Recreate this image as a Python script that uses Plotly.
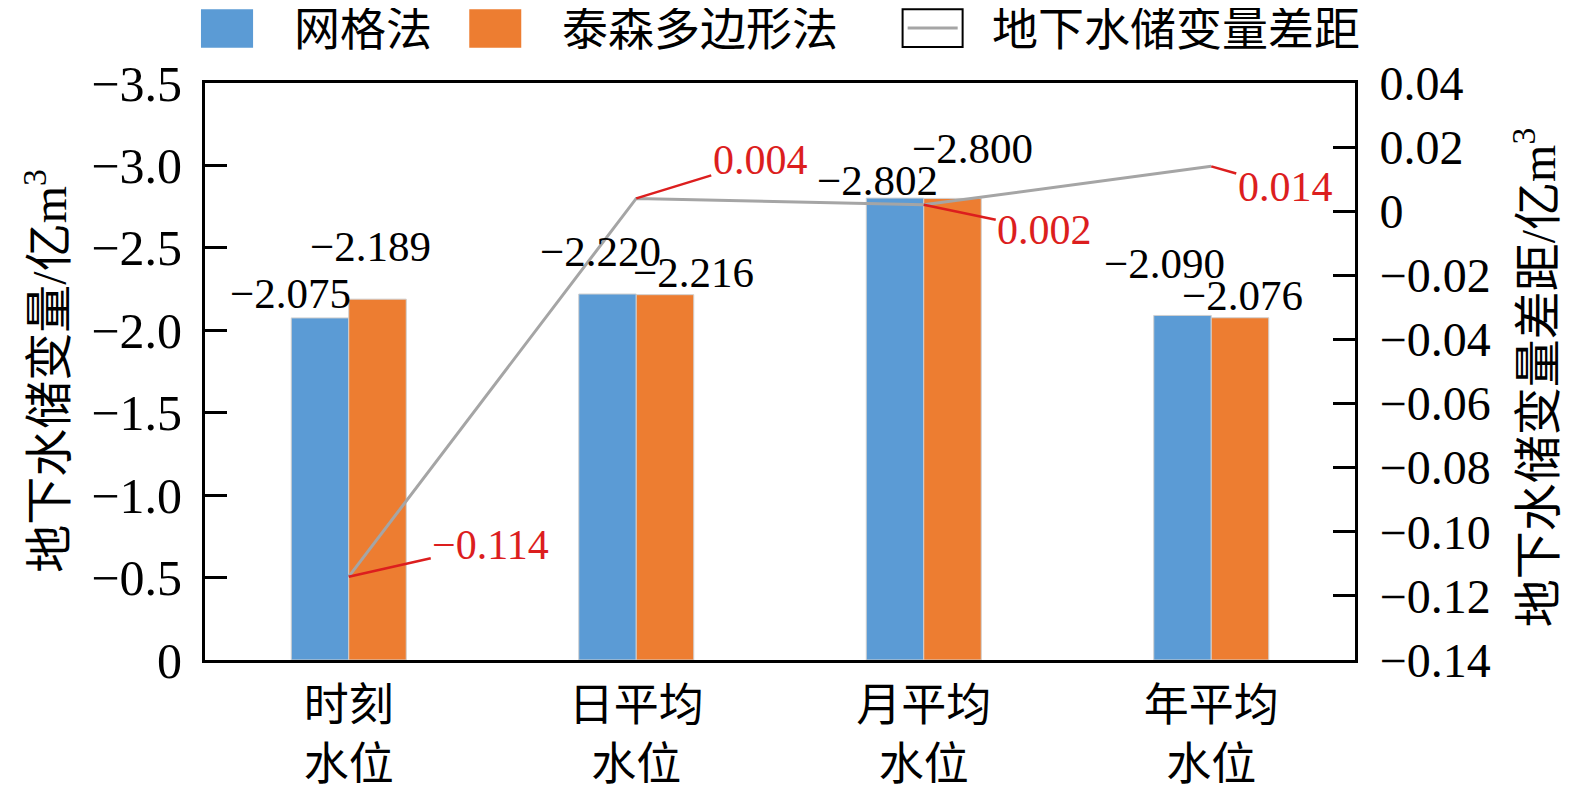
import plotly.graph_objects as go

categories = ["时刻<br>水位", "日平均<br>水位", "月平均<br>水位", "年平均<br>水位"]
grid_vals = [-2.075, -2.220, -2.802, -2.090]
thiessen_vals = [-2.189, -2.216, -2.800, -2.076]
diff_vals = [-0.114, 0.004, 0.002, 0.014]

left_tickvals = [0, -0.5, -1.0, -1.5, -2.0, -2.5, -3.0, -3.5]
left_ticktext = ["0", "−0.5", "−1.0", "−1.5", "−2.0", "−2.5", "−3.0", "−3.5"]
right_tickvals = [0.04, 0.02, 0, -0.02, -0.04, -0.06, -0.08, -0.10, -0.12, -0.14]
right_ticktext = ["0.04", "0.02", "0", "−0.02", "−0.04", "−0.06", "−0.08", "−0.10", "−0.12", "−0.14"]

BLUE = "#5B9BD5"
ORANGE = "#ED7D31"
GRAY = "#A5A5A5"
RED = "#DC1E1E"
FONT = "Liberation Serif, Noto Sans CJK SC"

# label offsets (pixels) for bar value labels
grid_shift = [(-58, 24), (-36, 43), (-46, 18), (-47, 52)]
thiessen_shift = [(22, 53), (57, 22), (49, 50), (31, 22)]
diff_offset = [(142, -32), (124, -38), (121, 25), (74, 21)]

fig = go.Figure()
fig.add_trace(go.Bar(x=categories, y=grid_vals, name="网格法", marker_color=BLUE,
                     marker_line=dict(width=1, color="#D0D0D0"), showlegend=False))
fig.add_trace(go.Bar(x=categories, y=thiessen_vals, name="泰森多边形法", marker_color=ORANGE,
                     marker_line=dict(width=1, color="#D0D0D0"), showlegend=False))
fig.add_trace(go.Scatter(x=categories, y=diff_vals, name="地下水储变量差距", mode="lines",
                         line=dict(color=GRAY, width=3), yaxis="y2", showlegend=False))

def fmt(v):
    return ("−" if v < 0 else "") + f"{abs(v):.3f}"

ann = []
for c, v, (dx, dy) in zip(categories, grid_vals, grid_shift):
    ann.append(dict(x=c, y=v, xref="x", yref="y", text=fmt(v), showarrow=False,
                    xshift=dx, yshift=dy, font=dict(size=43, color="black", family=FONT)))
for c, v, (dx, dy) in zip(categories, thiessen_vals, thiessen_shift):
    ann.append(dict(x=c, y=v, xref="x", yref="y", text=fmt(v), showarrow=False,
                    xshift=dx, yshift=dy, font=dict(size=43, color="black", family=FONT)))
for c, v, (ax, ay) in zip(categories, diff_vals, diff_offset):
    ann.append(dict(x=c, y=v, xref="x", yref="y2", text=fmt(v), showarrow=True,
                    arrowhead=0, arrowwidth=2.5, arrowcolor=RED, ax=ax, ay=ay,
                    font=dict(size=42, color=RED, family=FONT)))

# axis titles
ann.append(dict(x=-0.139, y=0.5, xref="paper", yref="paper", text="地下水储变量/亿m<sup>3</sup>",
                textangle=-90, showarrow=False, xanchor="center", yanchor="middle",
                font=dict(size=48, color="black", family=FONT)))
ann.append(dict(x=1.1565, y=0.49, xref="paper", yref="paper", text="地下水储变量差距/亿m<sup>3</sup>",
                textangle=-90, showarrow=False, xanchor="center", yanchor="middle",
                font=dict(size=48, color="black", family=FONT)))

# custom legend
leg_font = dict(size=46, color="black", family=FONT)
for xpos, txt in [(0.0757, "网格法"), (0.309, "泰森多边形法"), (0.683, "地下水储变量差距")]:
    ann.append(dict(x=xpos, y=1.092, xref="paper", yref="paper", text=txt, xanchor="left",
                    yanchor="middle", showarrow=False, font=leg_font))
shapes = [
    dict(type="rect", xref="paper", yref="paper", x0=-0.0035, x1=0.0418, y0=1.061, y1=1.128,
         fillcolor=BLUE, line=dict(width=0)),
    dict(type="rect", xref="paper", yref="paper", x0=0.2298, x1=0.275, y0=1.061, y1=1.128,
         fillcolor=ORANGE, line=dict(width=0)),
    dict(type="rect", xref="paper", yref="paper", x0=0.6066, x1=0.6588, y0=1.0625, y1=1.128,
         fillcolor="white", line=dict(width=2, color="black")),
    dict(type="line", xref="paper", yref="paper", x0=0.611, x1=0.6545, y0=1.0955, y1=1.0955,
         line=dict(width=3, color=GRAY)),
]

fig.update_layout(
    width=1575, height=800,
    margin=dict(l=197, r=228, t=75, b=148, autoexpand=False),
    paper_bgcolor="white", plot_bgcolor="white",
    barmode="group", bargap=0.6, bargroupgap=0,
    font=dict(family=FONT, size=46, color="black"),
    annotations=ann, shapes=shapes, showlegend=False,
    xaxis=dict(showline=True, linecolor="black", linewidth=3, mirror=True, ticks="",
               tickfont=dict(size=45), showgrid=False, automargin=False, ticklabelstandoff=4),
    yaxis=dict(range=[0, -3.5], tickvals=left_tickvals, ticktext=left_ticktext,
               showline=True, linecolor="black", linewidth=3, ticks="inside", ticklen=22,
               tickwidth=3, tickcolor="black", showgrid=False, zeroline=False,
               tickfont=dict(size=50), ticklabelstandoff=10, automargin=False),
    yaxis2=dict(range=[-0.14, 0.04], overlaying="y", side="right", tickvals=right_tickvals,
                ticktext=right_ticktext, showline=True, linecolor="black", linewidth=3,
                ticks="inside", ticklen=22, tickwidth=3, tickcolor="black", showgrid=False,
                zeroline=False, tickfont=dict(size=48), ticklabelstandoff=12, automargin=False),
)

fig.write_html("out.html")
